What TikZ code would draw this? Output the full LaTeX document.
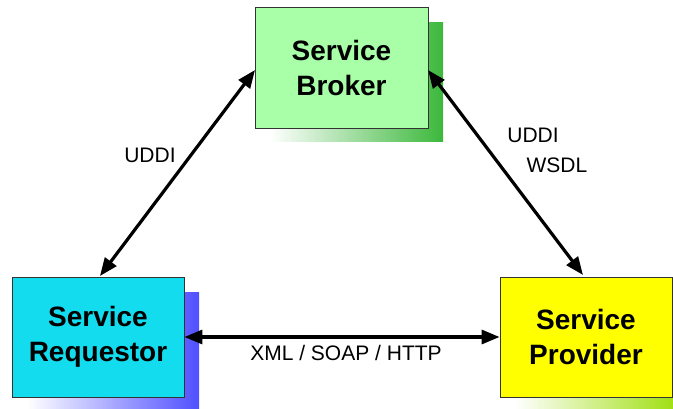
\documentclass[tikz,border=0pt]{standalone}
\usepackage{fontspec}
\setmainfont{Liberation Sans}
\usetikzlibrary{arrows.meta}
\definecolor{brokerfill}{HTML}{A8FFA8}
\definecolor{brokershade}{HTML}{3CB83C}
\definecolor{reqfill}{HTML}{12DCEE}
\definecolor{reqshade}{HTML}{5050FF}
\definecolor{provfill}{HTML}{FFFF00}
\definecolor{provshade}{HTML}{99DD00}
\tikzset{
  role/.style={draw=black!80, line width=0.8pt, minimum width=172pt, minimum height=120pt,
    align=center, font=\fontsize{28}{35}\selectfont\bfseries, inner sep=0pt},
  link/.style={line width=3.2pt, {Triangle[length=18pt,width=14pt]}-{Triangle[length=18pt,width=14pt]}},
  tag/.style={font=\fontsize{21}{24}\selectfont, inner sep=0pt}
}
\begin{document}
\begin{tikzpicture}[x=1pt,y=-1pt]
  \useasboundingbox (0,0) rectangle (673,409);
  % drop shadows, fading out towards the left
  \shade[left color=white, right color=brokershade] (270,23) rectangle (443,142);
  \shade[left color=white, right color=reqshade] (27,293) rectangle (199,409);
  \shade[left color=white, right color=provshade] (515,293) rectangle (687,409);
  % the three roles
  \node[role, fill=brokerfill, minimum width=173pt, minimum height=121pt] (broker) at (341.5,67.5) {Service\\Broker};
  \node[role, fill=reqfill] (req) at (98,337) {Service\\Requestor};
  \node[role, fill=provfill] (prov) at (586,337) {Service\\Provider};
  % connectors
  \coordinate (bl) at (255,70);
  \coordinate (br) at (428,70);
  \coordinate (rt) at (100,276);
  \coordinate (pt) at (583,275);
  \draw[link] (rt) -- (bl);
  \draw[link] (pt) -- (br);
  \draw[link] (req.east |- 0,337) -- (prov.west |- 0,337);
  % labels
  \node[tag] (l1) at (150,155) {UDDI};
  \node[tag] (l2) at (533,135) {UDDI};
  \node[tag] (l3) at (557,165) {WSDL};
  \node[tag] (l4) at (346,353) {XML / SOAP / HTTP};
\end{tikzpicture}
\end{document}
